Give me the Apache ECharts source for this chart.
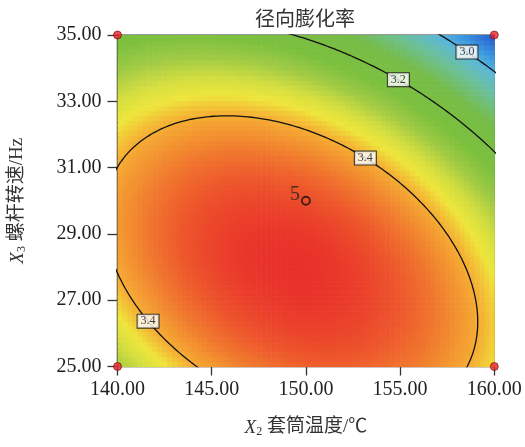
<!DOCTYPE html>
<html>
<head>
<meta charset="utf-8">
<script src="https://cdn.jsdelivr.net/npm/echarts@6/dist/echarts.min.js"></script>
<style>
  html, body { margin: 0; padding: 0; background: #fff; }
  #chart { width: 525px; height: 447px; }
</style>
</head>
<body>
<div id="chart"></div>
<script>
// Factor ranges (actual units) and axis ticks
const xRange = [140, 160];          // X2 套筒温度 / ℃
const yRange = [25, 35];            // X3 螺杆转速 / Hz
const xTickStep = 5;
const yTickStep = 2;

// Quadratic response model in coded units (A = X2, B = X3)
const modelTerms = ['b0', 'A', 'B', 'AB', 'A2', 'B2'];
const modelCoefs = [3.489, -0.0642, -0.1397, -0.1026, -0.139, -0.1597];

// Contour levels and where their value tags sit
const contourLevels = [3.0, 3.2, 3.4];
const contourTagLevels = [3.0, 3.2, 3.4, 3.4];
const contourTagX = [158.7, 155.0, 153.3, 141.8];
const contourTagY = [34.57, 33.69, 31.41, 26.43];

// Design points
const centerPoint = [150, 30];
const centerLabel = '5';
const cornerPoints = [[140, 25], [140, 35], [160, 25], [160, 35]];

// Colour ramp (position in [0,1] of the response range -> colour)
const rampStops  = [0.00, 0.10, 0.18, 0.28, 0.40, 0.55, 0.63, 0.70, 0.75, 0.80, 0.86, 0.93, 1.00];
const rampColors = ['#2a60cc', '#3a96e2', '#5cb8d6', '#6cc09a', '#76bc48', '#7cc03e', '#a0ca44',
                    '#d4de40', '#eee63c', '#f5b034', '#f28a30', '#ee5a2c', '#e8302a'];

function hexToRgb(h) { return [1, 3, 5].map(k => parseInt(h.substr(k, 2), 16)); }
function rampAt(t) {
  let k = 0;
  while (k < rampStops.length - 2 && t > rampStops[k + 1]) k++;
  const f = Math.min(1, Math.max(0, (t - rampStops[k]) / (rampStops[k + 1] - rampStops[k])));
  const c0 = hexToRgb(rampColors[k]), c1 = hexToRgb(rampColors[k + 1]);
  const c = c0.map((v, i) => Math.round(v + (c1[i] - v) * f));
  return 'rgb(' + c.join(',') + ')';
}
const visualColors = [];
for (let k = 0; k <= 100; k++) visualColors.push(rampAt(k / 100));

const xMid = (xRange[0] + xRange[1]) / 2, xHalf = (xRange[1] - xRange[0]) / 2;
const yMid = (yRange[0] + yRange[1]) / 2, yHalf = (yRange[1] - yRange[0]) / 2;
const [c0, cA, cB, cAB, cAA, cBB] = modelCoefs;

function response(a, b) {
  return c0 + cA * a + cB * b + cAB * a * b + cAA * a * a + cBB * b * b;
}

// Surface cells
const NX = 76, NY = 66;
const cellW = (xRange[1] - xRange[0]) / NX;
const cellH = (yRange[1] - yRange[0]) / NY;
const cells = [];
let vMin = Infinity, vMax = -Infinity;
for (let i = 0; i < NX; i++) {
  for (let j = 0; j < NY; j++) {
    const x = xRange[0] + (i + 0.5) * cellW;
    const y = yRange[0] + (j + 0.5) * cellH;
    const v = response((x - xMid) / xHalf, (y - yMid) / yHalf);
    vMin = Math.min(vMin, v); vMax = Math.max(vMax, v);
    cells.push([x, y, v]);
  }
}

// Stationary point of the quadratic; contours are ellipses around it
const det = 4 * cAA * cBB - cAB * cAB;
const a0 = (-2 * cA * cBB + cAB * cB) / det;
const b0 = (-2 * cAA * cB + cAB * cA) / det;
const fPeak = response(a0, b0);

function contourPoints(level) {
  const pts = [];
  for (let k = 0; k <= 720; k++) {
    const t = k / 720 * Math.PI * 2;
    const ux = Math.cos(t), uy = Math.sin(t);
    const q = -(cAA * ux * ux + cBB * uy * uy + cAB * ux * uy);
    const r = Math.sqrt((fPeak - level) / q);
    pts.push([xMid + (a0 + r * ux) * xHalf, yMid + (b0 + r * uy) * yHalf]);
  }
  return pts;
}

const contourSeries = contourLevels.map(level => ({
  type: 'line',
  data: contourPoints(level),
  showSymbol: false,
  symbol: 'none',
  clip: true,
  silent: true,
  z: 5,
  lineStyle: { color: '#111', width: 1.3 }
}));

// Snap every value tag onto its contour
const tagData = contourTagLevels.map((level, i) => {
  const pts = contourPoints(level);
  let best = pts[0], bestD = Infinity;
  pts.forEach(p => {
    const d = Math.pow((p[0] - contourTagX[i]) / xHalf, 2) + Math.pow((p[1] - contourTagY[i]) / yHalf, 2);
    if (d < bestD) { bestD = d; best = p; }
  });
  return [best[0], best[1], level];
});

const serif = 'Liberation Serif, Times New Roman, serif';
const cjk = 'Liberation Serif, Noto Sans CJK SC, serif';

const chart = echarts.init(document.getElementById('chart'), null, { renderer: 'canvas' });
chart.setOption({
  animation: false,
  backgroundColor: '#fff',
  grid: { left: 115.7, right: 30.7, top: 35, bottom: 80.5, show: true,
          borderColor: '#333', borderWidth: 1.2, backgroundColor: 'transparent' },
  graphic: [{
    type: 'text', x: 305, y: 18, z: 10,
    style: { text: '径向膨化率', font: '20px "Noto Sans CJK SC"', fill: '#333',
             textAlign: 'center', textVerticalAlign: 'middle' }
  }],
  visualMap: {
    show: false, type: 'continuous', min: vMin, max: vMax, dimension: 2, seriesIndex: 0,
    inRange: { color: visualColors }
  },
  xAxis: {
    type: 'value', min: xRange[0], max: xRange[1], interval: xTickStep,
    splitLine: { show: false },
    axisLine: { lineStyle: { color: '#333', width: 1.3 } },
    axisTick: { length: 9, lineStyle: { color: '#333', width: 1.3 } },
    axisLabel: { fontFamily: serif, fontSize: 20, color: '#222', margin: 13,
                 formatter: v => v.toFixed(2) },
    name: '{i|X}{s|2} 套筒温度/℃',
    nameLocation: 'middle', nameGap: 51,
    nameTextStyle: {
      fontFamily: cjk, fontSize: 19, color: '#333',
      rich: {
        i: { fontFamily: serif, fontStyle: 'italic', fontSize: 19, color: '#333' },
        s: { fontFamily: serif, fontSize: 12, color: '#333', verticalAlign: 'bottom', padding: [8, 0, 0, 0] }
      }
    }
  },
  yAxis: {
    type: 'value', min: yRange[0], max: yRange[1], interval: yTickStep,
    splitLine: { show: false },
    axisLine: { lineStyle: { color: '#333', width: 1.3 } },
    axisTick: { length: 10, lineStyle: { color: '#333', width: 1.3 } },
    axisLabel: { fontFamily: serif, fontSize: 20, color: '#222', margin: 16,
                 formatter: v => v.toFixed(2) },
    name: '{i|X}{s|3} 螺杆转速/Hz',
    nameLocation: 'middle', nameGap: 90, nameRotate: 90,
    nameTextStyle: {
      fontFamily: cjk, fontSize: 19, color: '#333',
      rich: {
        i: { fontFamily: serif, fontStyle: 'italic', fontSize: 19, color: '#333' },
        s: { fontFamily: serif, fontSize: 12, color: '#333', verticalAlign: 'bottom', padding: [8, 0, 0, 0] }
      }
    }
  },
  series: [
    {
      type: 'custom',
      data: cells,
      encode: { x: 0, y: 1 },
      silent: true,
      z: 1,
      renderItem: function (params, api) {
        const x = api.value(0), y = api.value(1);
        const p0 = api.coord([x - cellW / 2, y + cellH / 2]);
        const p1 = api.coord([x + cellW / 2, y - cellH / 2]);
        return {
          type: 'rect',
          shape: { x: p0[0], y: p0[1], width: p1[0] - p0[0] + 0.6, height: p1[1] - p0[1] + 0.6 },
          style: { fill: api.visual('color') }
        };
      }
    },
    ...contourSeries,
    {
      type: 'scatter',
      data: tagData,
      symbolSize: 1,
      clip: false,
      silent: true,
      z: 8,
      itemStyle: { color: 'rgba(0,0,0,0)' },
      label: {
        show: true, position: 'inside',
        formatter: p => p.value[2].toFixed(1),
        fontFamily: serif, fontSize: 12, color: '#111',
        backgroundColor: '#fff', borderColor: '#111', borderWidth: 1,
        padding: [1, 3, 0, 3]
      }
    },
    {
      type: 'scatter',
      data: [centerPoint],
      symbol: 'circle',
      symbolSize: 8,
      clip: false,
      silent: true,
      z: 9,
      itemStyle: { color: 'rgba(0,0,0,0)', borderColor: '#111', borderWidth: 1.8 },
      label: { show: true, position: 'left', distance: 1, offset: [0, -6],
               formatter: centerLabel, fontFamily: serif, fontSize: 20, color: '#222' }
    },
    {
      type: 'scatter',
      data: cornerPoints,
      symbol: 'circle',
      symbolSize: 8,
      clip: false,
      silent: true,
      z: 9,
      itemStyle: { color: '#e8202a', borderColor: '#6a1010', borderWidth: 0.8 }
    }
  ]
});
</script>
</body>
</html>
